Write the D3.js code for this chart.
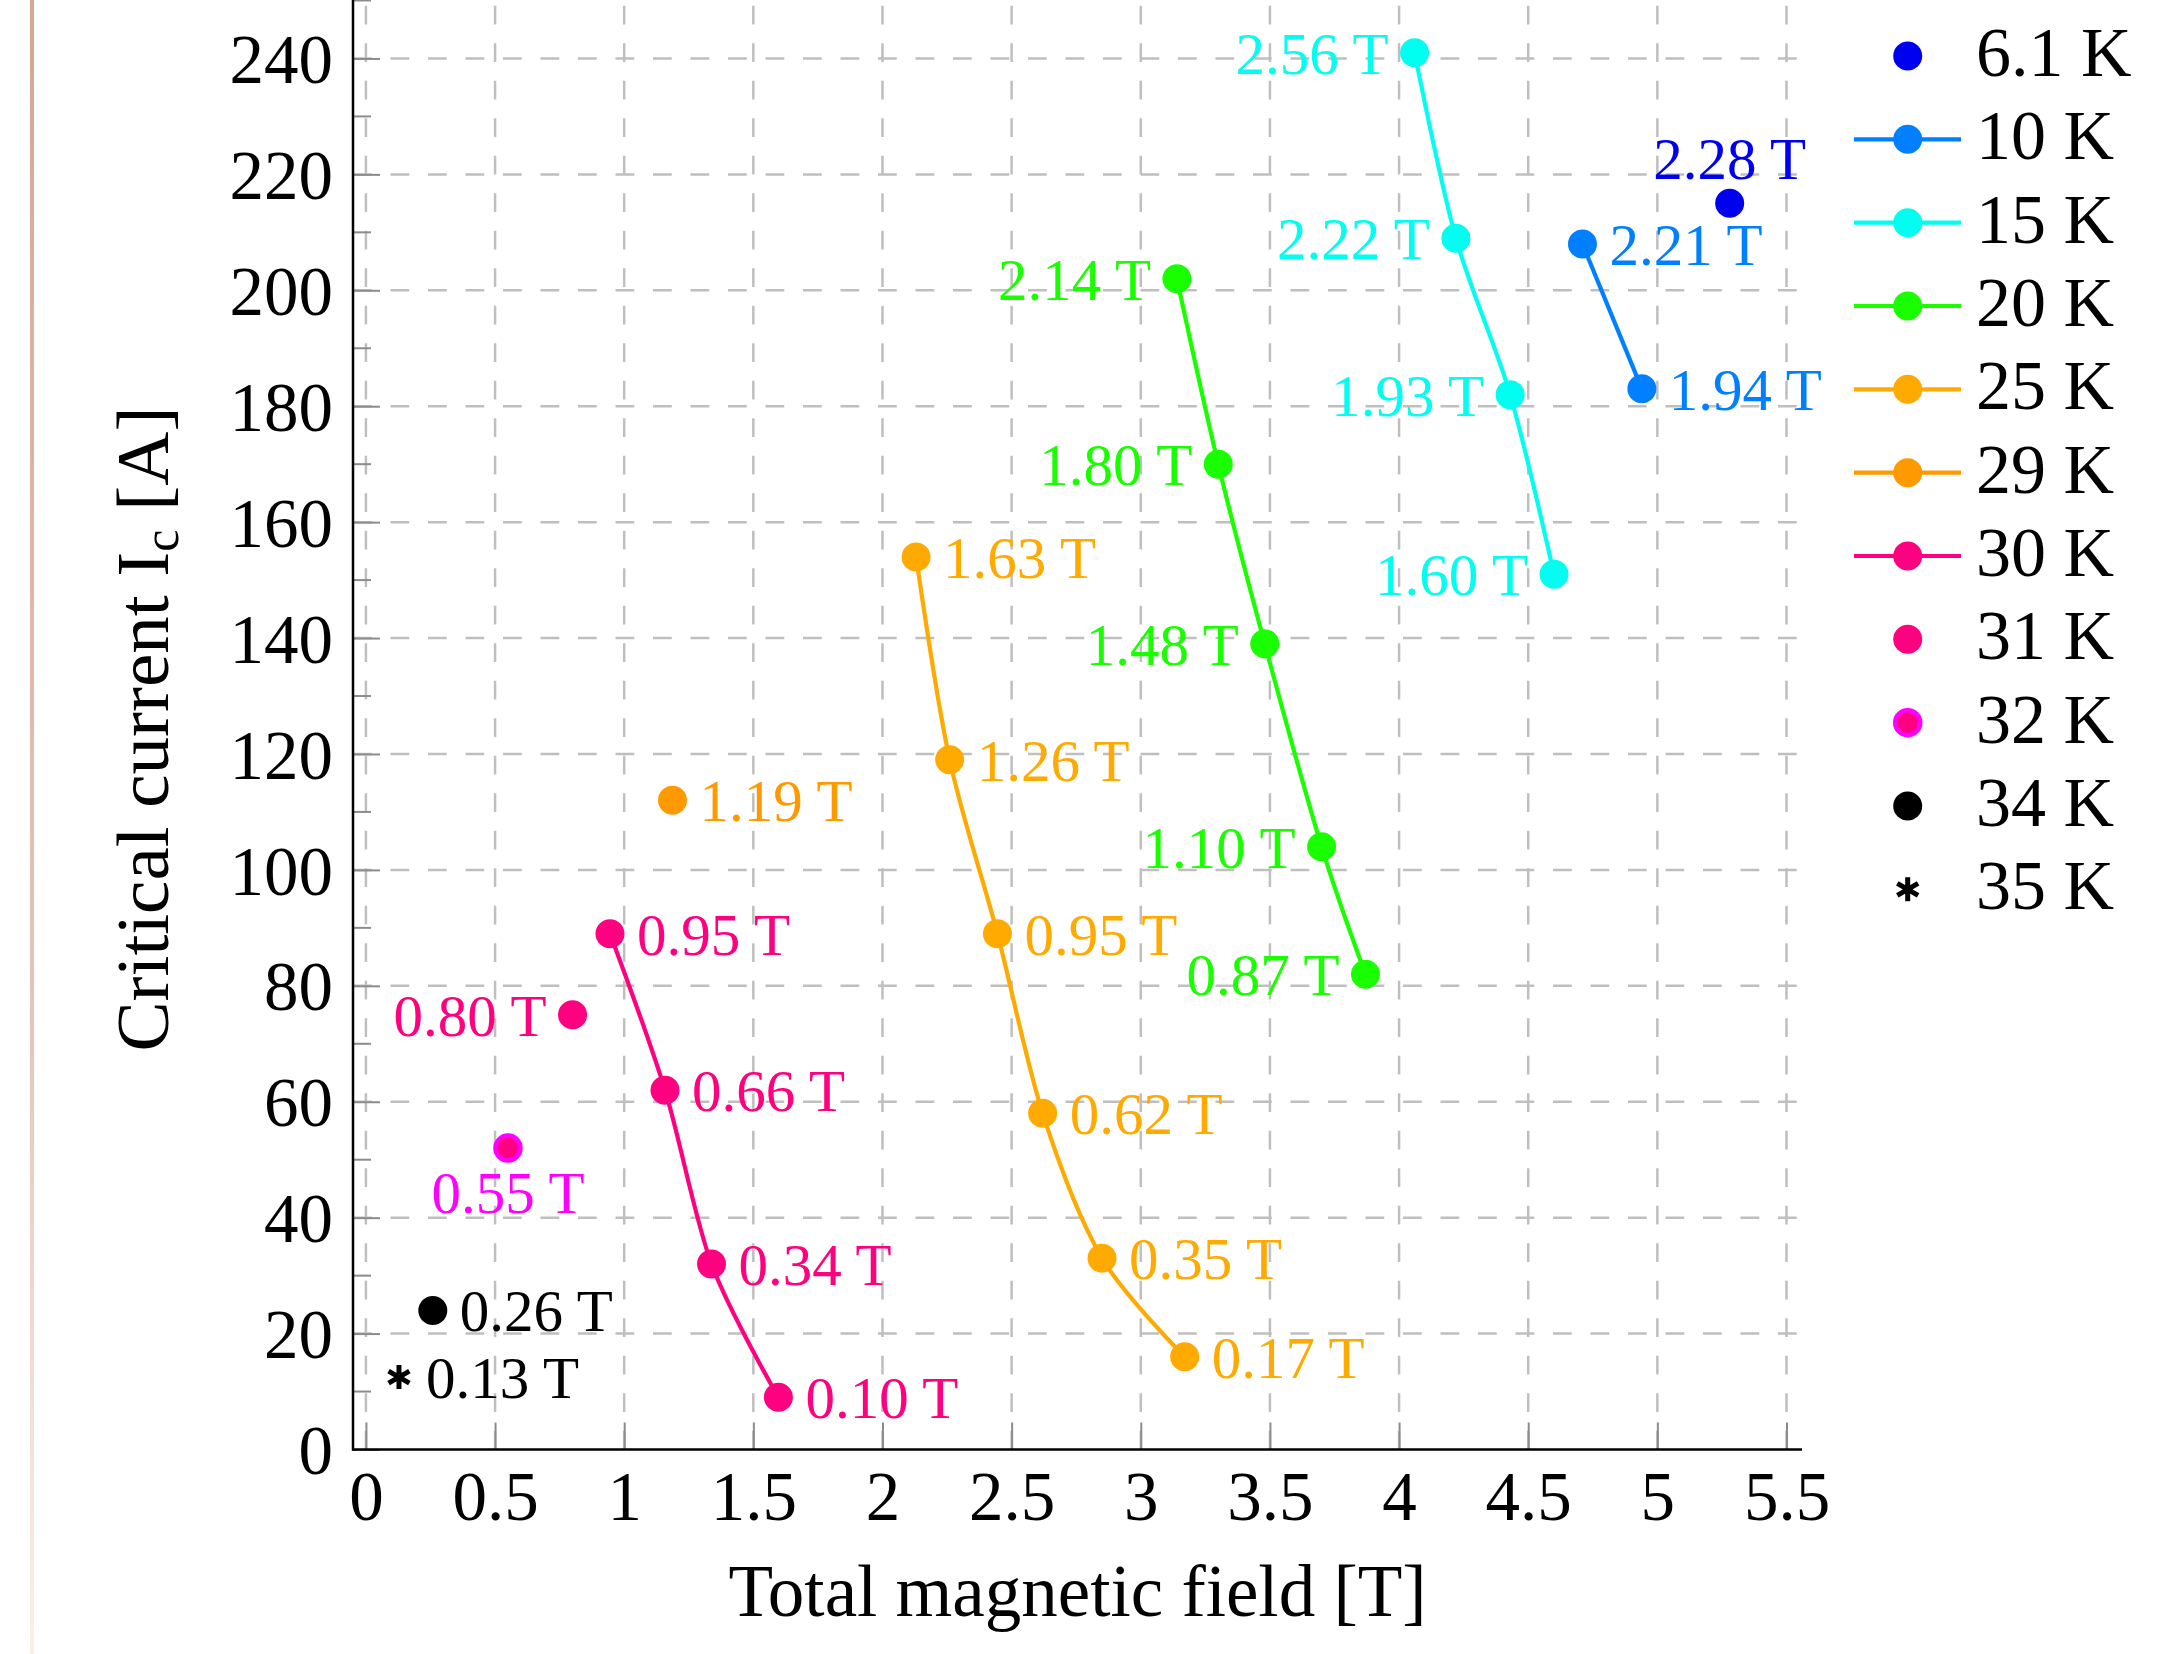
<!DOCTYPE html>
<html>
<head>
<meta charset="utf-8">
<script src="https://cdn.jsdelivr.net/npm/d3@7"></script>
<style>
  body { margin: 0; background: #fff; }
  svg { display: block; }
  text { font-family: "Liberation Serif", "Times New Roman", serif; }
</style>
</head>
<body>
<div id="chart"></div>
<script>
// temperatures (legend) and colours
const temps = ["6.1 K", "10 K", "15 K", "20 K", "25 K", "29 K", "30 K", "31 K", "32 K", "34 K", "35 K"];
const colors = ["#0000f0", "#0080ff", "#00fff0", "#1aff00", "#ffaa00", "#ff9900", "#ff0080", "#ff0080", "#ff00ff", "#000000", "#000000"];
const withLine = [false, true, true, true, true, true, true, false, false, false, false];

// total magnetic field [T] per series
const fieldT = [
  [5.28],
  [4.71, 4.94],
  [4.06, 4.22, 4.43, 4.60],
  [3.14, 3.30, 3.48, 3.70, 3.87],
  [2.13, 2.26, 2.445, 2.62, 2.85, 3.17],
  [1.187],
  [0.945, 1.158, 1.338, 1.597],
  [0.80],
  [0.55],
  [0.259],
  [0.128]
];
// critical current [A] per series
const currentA = [
  [215],
  [208, 183],
  [241, 209, 182, 151],
  [202, 170, 139, 104, 82],
  [154, 119, 89, 58, 33, 16],
  [112],
  [89, 62, 32, 9],
  [75],
  [52],
  [24],
  [12.5]
];
// point labels (applied field)
const pointLabels = [
  ["2.28 T"],
  ["2.21 T", "1.94 T"],
  ["2.56 T", "2.22 T", "1.93 T", "1.60 T"],
  ["2.14 T", "1.80 T", "1.48 T", "1.10 T", "0.87 T"],
  ["1.63 T", "1.26 T", "0.95 T", "0.62 T", "0.35 T", "0.17 T"],
  ["1.19 T"],
  ["0.95 T", "0.66 T", "0.34 T", "0.10 T"],
  ["0.80 T"],
  ["0.55 T"],
  ["0.26 T"],
  ["0.13 T"]
];
const labelSide = ["above", "right", "left", "left", "right", "right", "right", "left", "below", "right", "right"];

// ticks
const xTicks = [0, 0.5, 1, 1.5, 2, 2.5, 3, 3.5, 4, 4.5, 5, 5.5];
const xTickLabels = ["0", "0.5", "1", "1.5", "2", "2.5", "3", "3.5", "4", "4.5", "5", "5.5"];
const yTicks = [0, 20, 40, 60, 80, 100, 120, 140, 160, 180, 200, 220, 240];
const yMinorTicks = [10, 30, 50, 70, 90, 110, 130, 150, 170, 190, 210, 230, 250];

const width = 2157, height = 1654;
const plotLeft = 353, plotRight = 1802, plotBottom = 1449.5, plotTop = 0.5;

const x = d3.scaleLinear().domain([-0.05, 5.56]).range([plotLeft, plotRight]);
const y = d3.scaleLinear().domain([0, 250]).range([plotBottom, plotTop]);

const svg = d3.select("#chart").append("svg")
  .attr("width", width)
  .attr("height", height)
  .attr("viewBox", [0, 0, width, height]);

svg.append("rect").attr("width", width).attr("height", height).attr("fill", "#fff");

// faint page stripe on the left
const grad = svg.append("defs").append("linearGradient")
  .attr("id", "stripe").attr("x1", 0).attr("y1", 0).attr("x2", 0).attr("y2", 1);
grad.append("stop").attr("offset", "0%").attr("stop-color", "#d4a792");
grad.append("stop").attr("offset", "60%").attr("stop-color", "#e6c2b8");
grad.append("stop").attr("offset", "100%").attr("stop-color", "#fbefec");
svg.append("rect").attr("x", 30).attr("y", 0).attr("width", 4).attr("height", height).attr("fill", "url(#stripe)");

// grid
const grid = svg.append("g").attr("stroke", "#bfbfbf").attr("stroke-width", 2.5).attr("stroke-dasharray", "18.75,18.75");
grid.selectAll(".gx").data(xTicks).join("line")
  .attr("x1", d => x(d)).attr("x2", d => x(d))
  .attr("y1", y(0)).attr("y2", plotTop);
grid.selectAll(".gy").data(yTicks.slice(1)).join("line")
  .attr("x1", plotLeft).attr("x2", plotRight)
  .attr("y1", d => y(d)).attr("y2", d => y(d));

// axes
const xAxis = d3.axisBottom(x).tickValues(xTicks).tickSizeInner(-27).tickSizeOuter(0)
  .tickFormat((d, i) => xTickLabels[i]);
const yAxis = d3.axisLeft(y).tickValues(yTicks).tickSizeInner(-27).tickSizeOuter(0);

svg.append("g")
  .attr("transform", `translate(0,${plotBottom})`)
  .call(xAxis)
  .call(g => g.select(".domain").remove())
  .call(g => g.selectAll(".tick line").attr("stroke", "#8c8c8c").attr("stroke-width", 2))
  .call(g => g.selectAll(".tick text")
    .attr("font-family", "Liberation Serif")
    .attr("font-size", 69)
    .attr("fill", "#000")
    .attr("y", 70).attr("dy", 0));

const yg = svg.append("g")
  .attr("transform", `translate(${plotLeft},0)`)
  .call(yAxis)
  .call(g => g.select(".domain").remove())
  .call(g => g.selectAll(".tick line").attr("stroke", "#8c8c8c").attr("stroke-width", 2))
  .call(g => g.selectAll(".tick text")
    .attr("font-family", "Liberation Serif")
    .attr("font-size", 69)
    .attr("fill", "#000")
    .attr("x", -20).attr("dy", "0.35em"));

yg.selectAll(".minor").data(yMinorTicks).join("line")
  .attr("x1", 0).attr("x2", 18)
  .attr("y1", d => y(d)).attr("y2", d => y(d))
  .attr("stroke", "#8c8c8c").attr("stroke-width", 2);

// axis lines
svg.append("line").attr("x1", plotLeft).attr("x2", plotLeft).attr("y1", 0).attr("y2", plotBottom + 1)
  .attr("stroke", "#000").attr("stroke-width", 2.5);
svg.append("line").attr("x1", plotLeft - 1).attr("x2", plotRight).attr("y1", plotBottom).attr("y2", plotBottom)
  .attr("stroke", "#000").attr("stroke-width", 2.5);

// axis titles
svg.append("text")
  .attr("x", (plotLeft + plotRight) / 2).attr("y", 1616)
  .attr("text-anchor", "middle").attr("font-size", 73)
  .text("Total magnetic field [T]");

const yTitle = svg.append("text")
  .attr("transform", "translate(168,729) rotate(-90)")
  .attr("text-anchor", "middle").attr("font-size", 75);
yTitle.append("tspan").text("Critical current I");
yTitle.append("tspan").attr("font-size", 50).attr("dy", 10).text("c");
yTitle.append("tspan").attr("dy", -10).text(" [A]");

// markers
function asterisk(r) {
  const a = Math.PI / 6;
  return `M0,${-r}L0,${r}` +
    `M${-r * Math.cos(a)},${-r * Math.sin(a)}L${r * Math.cos(a)},${r * Math.sin(a)}` +
    `M${-r * Math.cos(a)},${r * Math.sin(a)}L${r * Math.cos(a)},${-r * Math.sin(a)}`;
}
function drawMarker(g, i, cx, cy) {
  if (i === 10) {
    g.append("path").attr("d", asterisk(12)).attr("transform", `translate(${cx},${cy})`)
      .attr("stroke", colors[i]).attr("stroke-width", 5).attr("fill", "none");
  } else if (i === 8) {
    g.append("circle").attr("cx", cx).attr("cy", cy).attr("r", 12.5)
      .attr("fill", "#ff0080").attr("stroke", colors[i]).attr("stroke-width", 4.5);
  } else {
    g.append("circle").attr("cx", cx).attr("cy", cy).attr("r", 14.5).attr("fill", colors[i]);
  }
}

const line = d3.line().curve(d3.curveCardinal.tension(0.1));
const plot = svg.append("g");

temps.forEach((t, i) => {
  const pts = fieldT[i].map((v, j) => [x(v), y(currentA[i][j])]);
  if (pts.length > 1) {
    plot.append("path").attr("d", line(pts))
      .attr("fill", "none").attr("stroke", colors[i]).attr("stroke-width", 4.2);
  }
  pts.forEach(p => drawMarker(plot, i, p[0], p[1]));
  pts.forEach((p, j) => {
    const side = labelSide[i];
    const txt = plot.append("text").attr("font-size", 59).attr("fill", colors[i]).text(pointLabels[i][j]);
    if (side === "right") txt.attr("x", p[0] + 27).attr("y", p[1] + 21).attr("text-anchor", "start");
    if (side === "left") txt.attr("x", p[0] - 26).attr("y", p[1] + 21).attr("text-anchor", "end");
    if (side === "above") txt.attr("x", p[0]).attr("y", p[1] - 24).attr("text-anchor", "middle");
    if (side === "below") txt.attr("x", p[0]).attr("y", p[1] + 65).attr("text-anchor", "middle");
  });
});

// legend
const legend = svg.append("g");
temps.forEach((t, i) => {
  const cy = 56 + 83.33 * i;
  if (withLine[i]) {
    legend.append("line").attr("x1", 1854).attr("x2", 1961).attr("y1", cy).attr("y2", cy)
      .attr("stroke", colors[i]).attr("stroke-width", 4.2);
  }
  drawMarker(legend, i, 1907.7, cy);
  legend.append("text").attr("x", 1976).attr("y", cy + 20).attr("font-size", 70).text(t);
});
</script>
</body>
</html>
